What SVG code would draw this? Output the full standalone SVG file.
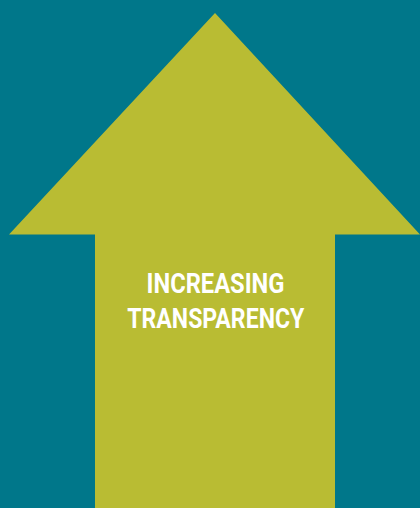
<svg xmlns="http://www.w3.org/2000/svg" width="420" height="508" viewBox="0 0 420 508">
  <style>
    .bg { fill: #00778A; }
    .arrow { fill: #B9BC33; }
    .label { fill: #FFFFFF; font-family: Roboto, "Liberation Sans", sans-serif; font-weight: 700; font-size: 28px; text-anchor: middle; }
  </style>
  <rect class="bg" x="0" y="0" width="420" height="508"/>
  <g id="arrow">
    <polygon class="arrow" points="215,13 420,234.5 335,234.5 335,508 95,508 95,234.5 9,234.5"/>
    <text class="label" x="215.5" y="293.3" textLength="138" lengthAdjust="spacingAndGlyphs">INCREASING</text>
    <text class="label" x="215.8" y="328.3" textLength="177" lengthAdjust="spacingAndGlyphs">TRANSPARENCY</text>
  </g>
</svg>
